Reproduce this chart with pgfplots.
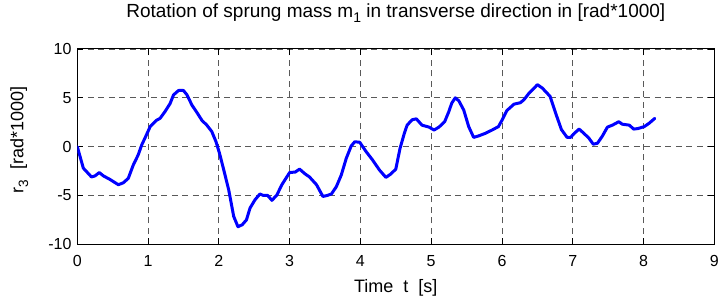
\documentclass[border=0pt]{standalone}
\usepackage{fontspec}
\setmainfont{Liberation Sans}
\usepackage{pgfplots}
\pgfplotsset{compat=1.18}
\begin{document}
\begin{tikzpicture}
\useasboundingbox (-77.3pt,-54.7pt) rectangle (645.7pt,244.3pt);
\begin{axis}[
  at={(0,0)}, anchor=south west,
  scale only axis, width=637pt, height=195.3pt,
  xmin=0, xmax=9, ymin=-10, ymax=10,
  xtick={0,1,...,9}, ytick={-10,-5,0,5,10},
  yticklabels={-10,-5,0,5,10},
  xticklabels={0,1,2,3,4,5,6,7,8,9},
  tick align=inside, major tick length=6pt,
  tick style={black, line width=0.8pt},
  axis line style={line width=1pt},
  font=\fontsize{16}{19}\selectfont,
  grid=major,
  major grid style={black!65, line width=0.9pt, dash pattern=on 6pt off 4.5pt},
  xticklabel style={anchor=base, inner sep=0pt, yshift=-22.4pt},
  yticklabel style={anchor=east, inner sep=0pt, xshift=-5.6pt},
  title={Rotation of sprung mass m\raisebox{-0.5ex}{\fontsize{14}{15}\selectfont 1} in transverse direction in [rad*1000]},
  title style={at={(axis description cs:0.5,1.1295)}, anchor=base, inner sep=0pt, font=\fontsize{19}{22}\selectfont},
  xlabel={Time\ \ t\ \ [s]},
  xlabel style={at={(axis description cs:0.5,-0.249)}, anchor=base, inner sep=0pt, font=\fontsize{18}{21}\selectfont},
  ylabel={r\raisebox{-0.5ex}{\fontsize{13.5}{14}\selectfont 3}\ \ [rad*1000]},
  ylabel style={at={(axis description cs:-0.0845,0.535)}, anchor=base, inner sep=0pt, font=\fontsize{18}{21}\selectfont},
]
\addplot[color={rgb,255:red,0;green,0;blue,255}, line width=3pt, line join=round, line cap=round] coordinates {
(0,0) (0.085,-2.2) (0.13,-2.55) (0.2,-3.1) (0.25,-3.0) (0.31,-2.65) (0.37,-3.0)
(0.46,-3.35) (0.58,-3.9) (0.65,-3.7) (0.72,-3.25) (0.79,-1.9) (0.86,-0.85)
(0.91,0.17) (0.97,1.1) (1.03,2.05) (1.12,2.7) (1.17,2.9) (1.24,3.6) (1.31,4.4)
(1.36,5.3) (1.43,5.75) (1.5,5.75) (1.55,5.3) (1.62,4.25) (1.69,3.5) (1.76,2.7)
(1.83,2.2) (1.9,1.55) (1.96,0.5) (2.01,-0.7) (2.07,-2.4) (2.14,-4.45) (2.21,-7.15)
(2.27,-8.2) (2.33,-8.0) (2.39,-7.5) (2.44,-6.3) (2.51,-5.45) (2.58,-4.85)
(2.63,-5.0) (2.69,-5.0) (2.75,-5.5) (2.82,-4.95) (2.89,-3.9) (3.0,-2.65)
(3.08,-2.6) (3.14,-2.3) (3.22,-2.8) (3.28,-3.1) (3.38,-3.9) (3.47,-5.1)
(3.53,-5.0) (3.59,-4.85) (3.66,-4.1) (3.73,-2.9) (3.80,-1.2) (3.87,0.07)
(3.92,0.5) (3.99,0.45) (4.08,-0.5) (4.17,-1.35) (4.27,-2.4) (4.36,-3.15)
(4.43,-2.8) (4.5,-2.3) (4.56,-0.17) (4.62,1.35) (4.66,2.2) (4.73,2.75)
(4.79,2.85) (4.87,2.2) (4.97,2.0) (5.04,1.7) (5.11,2.0) (5.19,2.55) (5.25,3.6)
(5.29,4.45) (5.34,5.0) (5.39,4.7) (5.46,3.75) (5.53,2.05) (5.6,0.95) (5.67,1.1)
(5.76,1.35) (5.86,1.7) (5.95,2.05) (6.0,2.7) (6.07,3.7) (6.17,4.35) (6.26,4.5)
(6.31,4.8) (6.38,5.45) (6.45,5.95) (6.5,6.35) (6.57,6.0) (6.68,5.15) (6.76,3.4)
(6.84,1.75) (6.92,0.95) (6.97,0.95) (7.02,1.35) (7.09,1.8) (7.16,1.35)
(7.23,0.85) (7.29,0.25) (7.35,0.35) (7.42,1.1) (7.49,2.0) (7.56,2.2) (7.65,2.55)
(7.7,2.3) (7.8,2.2) (7.86,1.8) (7.92,1.85) (8.01,2.05) (8.08,2.4) (8.16,2.9)
};
\end{axis}
\end{tikzpicture}
\end{document}
